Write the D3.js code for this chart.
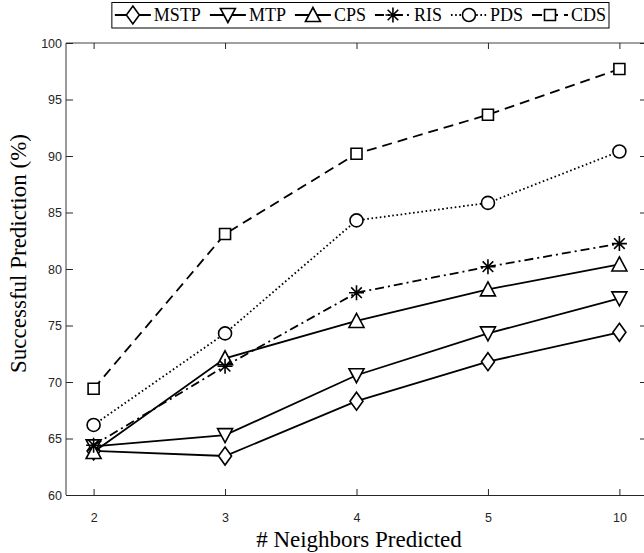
<!DOCTYPE html>
<html><head><meta charset="utf-8">
<script src="https://cdn.jsdelivr.net/npm/d3@7"></script>
<style>body{margin:0;background:#fff}svg{display:block}</style>
</head><body>
<svg id="c" width="644" height="553"></svg>
<script>
const categories = ["2", "3", "4", "5", "10"];
const MSTP = [63.9, 63.45, 68.3, 71.8, 74.4];
const MTP  = [64.3, 65.3, 70.6, 74.3, 77.4];
const CPS  = [63.8, 72.1, 75.4, 78.2, 80.4];
const RIS  = [64.4, 71.4, 77.9, 80.2, 82.25];
const PDS  = [66.2, 74.3, 84.3, 85.85, 90.4];
const CDS  = [69.4, 83.1, 90.2, 93.65, 97.7];
const yTicks = [60, 65, 70, 75, 80, 85, 90, 95, 100];
const seriesNames = ["MSTP", "MTP", "CPS", "RIS", "PDS", "CDS"];
const seriesVals = [MSTP, MTP, CPS, RIS, PDS, CDS];
const xLabel = "# Neighbors Predicted";
const yLabel = "Successful Prediction (%)";

const dashes = {MSTP: null, MTP: null, CPS: null, RIS: "9,4,2,4", PDS: "1.6,2.6", CDS: "10,6"};
const markers = {
  MSTP: "M0,-9L6.5,0L0,9L-6.5,0Z",
  MTP: "M0,7.5L7.5,-6.5L-7.5,-6.5Z",
  CPS: "M0,-7.5L7.5,6.5L-7.5,6.5Z",
  RIS: "M0,-7.5V7.5M-7.5,0H7.5M-5.3,-5.3L5.3,5.3M-5.3,5.3L5.3,-5.3",
  PDS: "M6.5,0A6.5,6.5 0 1 1 -6.5,0A6.5,6.5 0 1 1 6.5,0Z",
  CDS: "M-5.5,-5.5H5.5V5.5H-5.5Z"
};

const L = 66, R = 647, T = 43, B = 495;
const svg = d3.select("#c");
const x = d3.scalePoint().domain(categories).range([L, R]).padding(0.21);
const y = d3.scaleLinear().domain([60, 100]).range([B, T]);
const axisCol = "#262626";
const tickFont = "'Liberation Sans', Arial, sans-serif";
const serif = "'Liberation Serif', 'Times New Roman', serif";

// frame
svg.append("line").attr("x1", L).attr("x2", L).attr("y1", T).attr("y2", B).attr("stroke", "#808080").attr("stroke-width", 1.6);
svg.append("line").attr("x1", L).attr("x2", R).attr("y1", T).attr("y2", T).attr("stroke", "#808080").attr("stroke-width", 1.6);
svg.append("line").attr("x1", R).attr("x2", R).attr("y1", T).attr("y2", B).attr("stroke", "#808080").attr("stroke-width", 1.6);
svg.append("line").attr("x1", L).attr("x2", R).attr("y1", B + 0.5).attr("y2", B + 0.5).attr("stroke", axisCol).attr("stroke-width", 1);

// y axis
const ya = svg.append("g").attr("transform", `translate(${L},0)`)
  .call(d3.axisLeft(y).tickValues(yTicks).tickSize(-7).tickPadding(4).tickFormat(d3.format("d")));
ya.select(".domain").remove();
ya.selectAll("line").attr("stroke", axisCol);
ya.selectAll("text").attr("font-family", tickFont).attr("font-size", 12.5).attr("fill", axisCol);
const yr = svg.append("g").attr("transform", `translate(${R},0)`)
  .call(d3.axisRight(y).tickValues(yTicks).tickSize(-7).tickFormat(""));
yr.select(".domain").remove();
yr.selectAll("line").attr("stroke", axisCol);

// x axis
const xa = svg.append("g").attr("transform", `translate(0,${B})`)
  .call(d3.axisBottom(x).tickSize(-6).tickPadding(18));
xa.select(".domain").remove();
xa.selectAll("line").attr("stroke", axisCol);
xa.selectAll("text").attr("font-family", tickFont).attr("font-size", 12.5).attr("fill", axisCol);
const xt = svg.append("g").attr("transform", `translate(0,${T})`)
  .call(d3.axisTop(x).tickSize(-6).tickFormat(""));
xt.select(".domain").remove();
xt.selectAll("line").attr("stroke", axisCol);

// labels
svg.append("text").attr("x", 359).attr("y", 547).attr("text-anchor", "middle")
  .attr("font-family", serif).attr("font-size", 23).attr("fill", "#000").text(xLabel);
svg.append("text").attr("transform", "translate(26,253.5) rotate(-90)").attr("text-anchor", "middle")
  .attr("font-family", serif).attr("font-size", 23).attr("fill", "#000").text(yLabel);

// series
const line = d3.line().x((d, i) => x(categories[i])).y(d => y(d));
seriesNames.forEach((name, k) => {
  const vals = seriesVals[k];
  svg.append("path").attr("d", line(vals)).attr("fill", "none").attr("stroke", "#000")
    .attr("stroke-width", 1.8).attr("stroke-dasharray", dashes[name]);
  svg.append("g").selectAll("path").data(vals).join("path")
    .attr("transform", (d, i) => `translate(${x(categories[i])},${y(d)})`)
    .attr("d", markers[name]).attr("fill", name === "RIS" ? "none" : "#fff")
    .attr("stroke", "#000").attr("stroke-width", 1.6);
});

// legend
const lg = svg.append("g");
const box = lg.append("rect").attr("fill", "#fff").attr("stroke", "#000").attr("stroke-width", 1);
let cx = 0;
const sampleW = 36, ly = 15, textGap = 3, itemGap = 9;
seriesNames.forEach(name => {
  const g = lg.append("g");
  g.append("line").attr("x1", cx).attr("x2", cx + sampleW).attr("y1", ly).attr("y2", ly)
    .attr("stroke", "#000").attr("stroke-width", 1.8).attr("stroke-dasharray", dashes[name]);
  g.append("path").attr("transform", `translate(${cx + sampleW / 2},${ly})`).attr("d", markers[name])
    .attr("fill", name === "RIS" ? "none" : "#fff").attr("stroke", "#000").attr("stroke-width", 1.6);
  const t = g.append("text").attr("x", cx + sampleW + textGap).attr("y", ly + 6).attr("font-family", serif)
    .attr("font-size", 18).attr("fill", "#000").text(name);
  cx += sampleW + textGap + t.node().getComputedTextLength() + itemGap;
});
const totalW = cx - itemGap;
const boxRight = 609, pad = 3;
lg.attr("transform", `translate(${boxRight - pad - totalW},0)`);
box.attr("x", -pad).attr("y", 2.5).attr("width", totalW + 2 * pad).attr("height", 25.5);
</script>
</body></html>
